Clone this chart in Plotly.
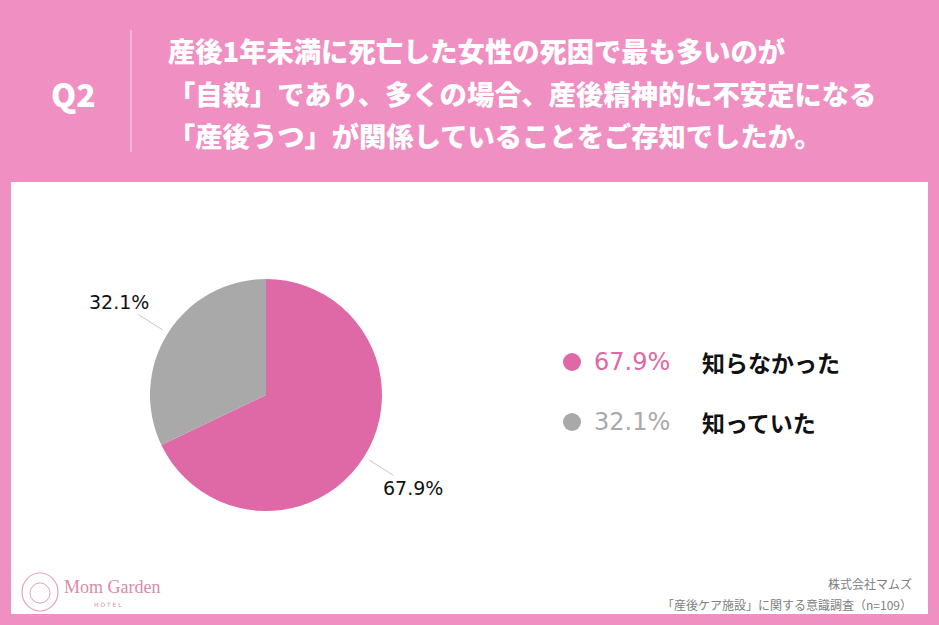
import plotly.graph_objects as go
import math

# === DATA ===
labels = ['知らなかった', '知っていた']
values = [67.9, 32.1]
colors = ['#DF68A6', '#A9A9A9']
legend_text_colors = ['#DF68A6', '#A9A9A9']

title_lines = [
    '産後1年未満に死亡した女性の死因で最も多いのが',
    '「自殺」であり、多くの場合、産後精神的に不安定になる',
    '「産後うつ」が関係していることをご存知でしたか。',
]
question = 'Q2'
footer_lines = ['株式会社マムズ', '「産後ケア施設」に関する意識調査（n=109）']

W, H = 939, 625
BG = '#F08FC1'
JP = 'Noto Sans CJK JP'
NUM = 'DejaVu Sans'

# pie geometry (pixels)
cx, cy, R = 266, 395, 116


def px(x):
    return x / W


def py(y):
    return 1 - y / H


fig = go.Figure()
fig.add_trace(go.Pie(
    labels=labels, values=values,
    marker=dict(colors=colors, line=dict(width=0)),
    sort=False, direction='clockwise', rotation=0,
    textinfo='none', hoverinfo='label+percent',
    domain=dict(x=[px(cx - R), px(cx + R)], y=[py(cy + R), py(cy - R)]),
    showlegend=False,
))

shapes = []
annotations = []

# white panel
shapes.append(dict(type='rect', xref='paper', yref='paper',
                   x0=px(11), x1=px(928), y0=py(614), y1=py(182),
                   fillcolor='white', line=dict(width=0), layer='below'))

# title area
shapes.append(dict(type='line', xref='paper', yref='paper',
                   x0=px(131), x1=px(131), y0=py(30), y1=py(152),
                   line=dict(color='rgba(255,255,255,0.7)', width=1)))
annotations.append(dict(x=px(73), y=py(93), xref='paper', yref='paper',
                        text=question, showarrow=False,
                        font=dict(family=JP, size=32, color='white', weight=900),
                        xanchor='center', yanchor='middle'))
for i, line in enumerate(title_lines):
    annotations.append(dict(x=px(166), y=py(50 + i * 42.5), xref='paper', yref='paper',
                            text=line, showarrow=False,
                            font=dict(family=JP, size=27.3, color='white', weight=900),
                            xanchor='left', yanchor='middle'))

# outside labels with leader lines, placed from slice mid-angles
total = sum(values)
start = 0
for v in values:
    mid = (start + v / 2) / total * 2 * math.pi
    start += v
    dx, dy = math.sin(mid), -math.cos(mid)
    shapes.append(dict(type='line', xref='paper', yref='paper',
                       x0=px(cx + dx * R * 1.05), y0=py(cy + dy * R * 1.05),
                       x1=px(cx + dx * R * 1.3), y1=py(cy + dy * R * 1.3),
                       line=dict(color='#C8C8C8', width=1)))
    annotations.append(dict(x=px(cx + dx * R * 1.5), y=py(cy + dy * R * 1.5),
                            xref='paper', yref='paper',
                            text=f'{v}%', showarrow=False,
                            font=dict(family=NUM, size=19, color='#111111'),
                            xanchor='center', yanchor='middle'))

# custom legend
for i, (lab, v) in enumerate(zip(labels, values)):
    ly = 362 + i * 60
    shapes.append(dict(type='circle', xref='paper', yref='paper',
                       x0=px(563), x1=px(581), y0=py(ly + 9), y1=py(ly - 9),
                       fillcolor=colors[i], line=dict(width=0)))
    annotations.append(dict(x=px(592), y=py(ly), xref='paper', yref='paper',
                            text=f'{v}%', showarrow=False,
                            font=dict(family=NUM, size=24, color=legend_text_colors[i]),
                            xanchor='left', yanchor='middle'))
    annotations.append(dict(x=px(700), y=py(ly), xref='paper', yref='paper',
                            text=lab, showarrow=False,
                            font=dict(family=JP, size=23, color='#111111', weight=700),
                            xanchor='left', yanchor='middle'))

# footer
for i, t in enumerate(footer_lines):
    annotations.append(dict(x=px(914), y=py(583 + i * 21), xref='paper', yref='paper',
                            text=t, showarrow=False,
                            font=dict(family=JP, size=12, color='#808080'),
                            xanchor='right', yanchor='middle'))

# logo
shapes.append(dict(type='circle', xref='paper', yref='paper',
                   x0=px(22), x1=px(58), y0=py(611), y1=py(573),
                   line=dict(color='#E3A3BE', width=1.2)))
shapes.append(dict(type='circle', xref='paper', yref='paper',
                   x0=px(30), x1=px(50), y0=py(603), y1=py(583),
                   line=dict(color='#E3A3BE', width=1)))
annotations.append(dict(x=px(62), y=py(587), xref='paper', yref='paper',
                        text='Mom Garden', showarrow=False,
                        font=dict(family='Liberation Serif', size=18, color='#D98AAB'),
                        xanchor='left', yanchor='middle'))
annotations.append(dict(x=px(108), y=py(604), xref='paper', yref='paper',
                        text='H O T E L', showarrow=False,
                        font=dict(family='DejaVu Sans', size=6, color='#D98AAB'),
                        xanchor='center', yanchor='middle'))

fig.update_layout(
    width=W, height=H,
    margin=dict(l=0, r=0, t=0, b=0),
    paper_bgcolor=BG, plot_bgcolor=BG,
    shapes=shapes, annotations=annotations,
)

fig.write_html('out.html', config={'displayModeBar': False},
               post_script="document.body.style.margin='0';")
